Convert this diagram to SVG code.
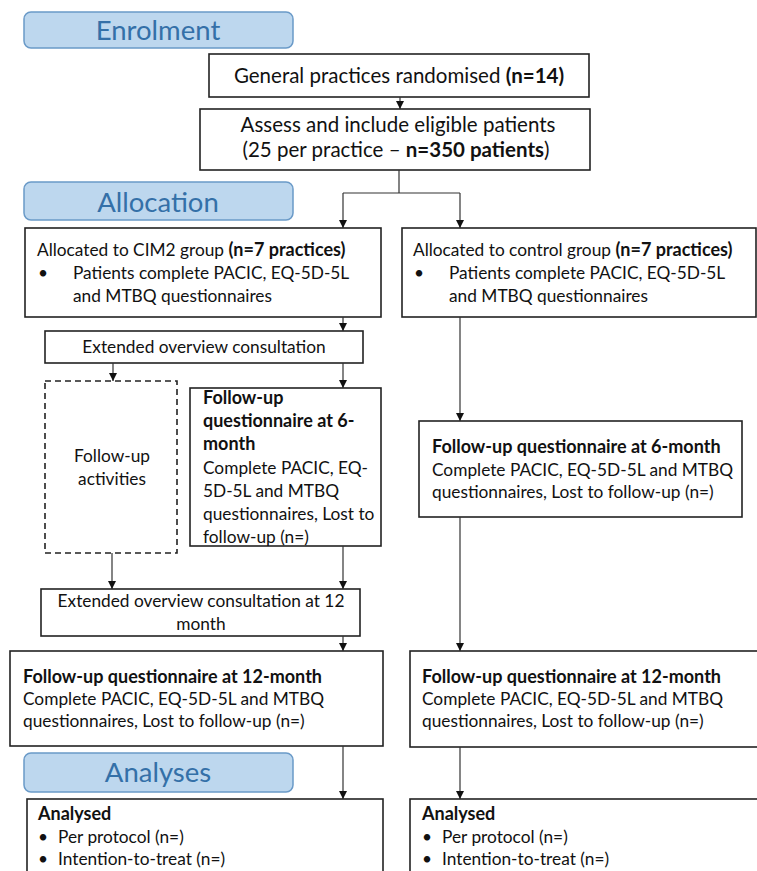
<svg xmlns="http://www.w3.org/2000/svg" width="757" height="871" viewBox="0 0 757 871">
<defs>
<marker id="ah" viewBox="0 0 10 10" refX="10" refY="5" markerWidth="8" markerHeight="8" markerUnits="userSpaceOnUse" orient="auto"><path d="M0,0 L10,5 L0,10 z" fill="#111"/></marker>
<style>
.box{fill:#fff;stroke:#222;stroke-width:1.6}
.dash{fill:#fff;stroke:#222;stroke-width:1.6;stroke-dasharray:6 4}
.hdr{fill:#bdd7ee;stroke:#6a9ac8;stroke-width:1.5}
.ht{font-family:Lato,"Liberation Sans",sans-serif;font-size:27.5px;fill:#3470a8;text-anchor:middle}
.t{font-family:Lato,"Liberation Sans",sans-serif;font-size:17.3px;fill:#111}
.tl{font-family:Lato,"Liberation Sans",sans-serif;font-size:20.5px;fill:#111}
.c{text-anchor:middle}
.b{font-weight:bold}
.bb{font-weight:bold;font-size:18px}
.con{stroke:#333;stroke-width:1.2;fill:none}
.arr{stroke:#333;stroke-width:1.2;fill:none;marker-end:url(#ah)}
</style>
</defs>
<rect width="757" height="871" fill="#fff"/>

<g id="hdr-enrolment"><rect class="hdr" x="24" y="12" width="269" height="36" rx="7"/><text class="ht" x="158" y="40">Enrolment</text></g>
<g id="hdr-allocation"><rect class="hdr" x="24" y="182" width="269" height="38" rx="7"/><text class="ht" x="158" y="212">Allocation</text></g>
<g id="hdr-analyses"><rect class="hdr" x="24" y="753" width="269" height="39" rx="7"/><text class="ht" x="158" y="782">Analyses</text></g>

<g id="n-randomised"><rect class="box" x="209" y="54" width="380" height="43"/><text class="tl c" x="399" y="83">General practices randomised <tspan class="b">(n=14)</tspan></text></g>
<g id="n-assess"><rect class="box" x="200" y="109" width="390" height="61"/><text class="tl c" x="398" y="132">Assess and include eligible patients</text><text class="tl c" x="396" y="157">(25 per practice – <tspan class="b">n=350 patients</tspan>)</text></g>

<g id="n-cim2"><rect class="box" x="25" y="228" width="356" height="89"/>
<text class="t" x="37" y="256">Allocated to CIM2 group <tspan class="bb">(n=7 practices)</tspan></text>
<text class="t" x="38" y="279">•</text><text class="t" x="73" y="279">Patients complete PACIC, EQ-5D-5L</text>
<text class="t" x="73" y="302">and MTBQ questionnaires</text></g>

<g id="n-control"><rect class="box" x="402" y="228" width="354" height="89"/>
<text class="t" x="413" y="256">Allocated to control group <tspan class="bb">(n=7 practices)</tspan></text>
<text class="t" x="414" y="279">•</text><text class="t" x="449" y="279">Patients complete PACIC, EQ-5D-5L</text>
<text class="t" x="449" y="302">and MTBQ questionnaires</text></g>

<g id="n-extended"><rect class="box" x="45" y="331" width="318" height="32"/><text class="t c" x="204" y="353">Extended overview consultation</text></g>

<g id="n-activities"><rect class="dash" x="45" y="381" width="132" height="172"/><text class="t c" x="112" y="462">Follow-up</text><text class="t c" x="112" y="485">activities</text></g>

<g id="n-fu6-cim"><rect class="box" x="190" y="388" width="191" height="158"/>
<text class="t bb" x="203" y="404">Follow-up</text>
<text class="t bb" x="203" y="427">questionnaire at 6-</text>
<text class="t bb" x="203" y="450">month</text>
<text class="t" x="203" y="474">Complete PACIC, EQ-</text>
<text class="t" x="203" y="497">5D-5L and MTBQ</text>
<text class="t" x="203" y="520">questionnaires, Lost to</text>
<text class="t" x="203" y="543">follow-up (n=)</text></g>

<g id="n-fu6-ctl"><rect class="box" x="419" y="421" width="323" height="96"/>
<text class="t bb" x="432" y="453">Follow-up questionnaire at 6-month</text>
<text class="t" x="432" y="476">Complete PACIC, EQ-5D-5L and MTBQ</text>
<text class="t" x="432" y="498">questionnaires, Lost to follow-up (n=)</text></g>

<g id="n-extended12"><rect class="box" x="41" y="589" width="319" height="47"/><text class="t c" x="201" y="607">Extended overview consultation at 12</text><text class="t c" x="201" y="630">month</text></g>

<g id="n-fu12-cim"><rect class="box" x="10" y="651" width="373" height="95"/>
<text class="t bb" x="23" y="683">Follow-up questionnaire at 12-month</text>
<text class="t" x="23" y="705">Complete PACIC, EQ-5D-5L and MTBQ</text>
<text class="t" x="23" y="727">questionnaires, Lost to follow-up (n=)</text></g>

<g id="n-fu12-ctl"><rect class="box" x="410" y="651" width="360" height="96"/>
<text class="t bb" x="422" y="683">Follow-up questionnaire at 12-month</text>
<text class="t" x="422" y="705">Complete PACIC, EQ-5D-5L and MTBQ</text>
<text class="t" x="422" y="727">questionnaires, Lost to follow-up (n=)</text></g>

<g id="n-analysed-cim"><rect class="box" x="27" y="799" width="356" height="90"/>
<text class="t bb" x="38" y="820">Analysed</text>
<text class="t" x="38" y="843">•</text><text class="t" x="58" y="843">Per protocol (n=)</text>
<text class="t" x="38" y="865">•</text><text class="t" x="58" y="865">Intention-to-treat (n=)</text></g>

<g id="n-analysed-ctl"><rect class="box" x="410" y="799" width="360" height="90"/>
<text class="t bb" x="422" y="820">Analysed</text>
<text class="t" x="422" y="843">•</text><text class="t" x="442" y="843">Per protocol (n=)</text>
<text class="t" x="422" y="865">•</text><text class="t" x="442" y="865">Intention-to-treat (n=)</text></g>

<g id="connectors">
<path class="arr" d="M400,97 V109"/>
<path class="con" d="M399,170 V193 M343,193 H460"/>
<path class="arr" d="M343,193 V228"/>
<path class="arr" d="M460,193 V228"/>
<path class="arr" d="M343,317 V331"/>
<path class="arr" d="M113,363 V381"/>
<path class="arr" d="M343,363 V388"/>
<path class="arr" d="M460,317 V421"/>
<path class="arr" d="M112,553 V589"/>
<path class="arr" d="M343,546 V589"/>
<path class="arr" d="M343,636 V651"/>
<path class="arr" d="M460,517 V651"/>
<path class="arr" d="M343,746 V799"/>
<path class="arr" d="M460,747 V799"/>
</g>
</svg>
